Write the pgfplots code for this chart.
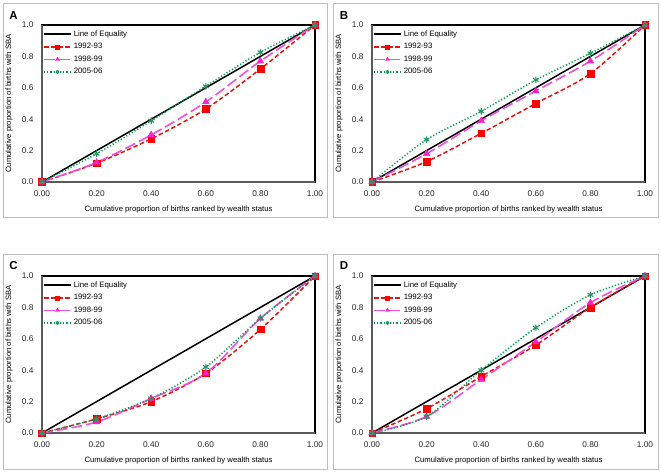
\documentclass[border=0pt]{standalone}
\usepackage{pgfplots}
\pgfplotsset{compat=1.18}
\usepackage{fontspec}
\setmainfont{Liberation Sans}
\definecolor{r92}{RGB}{230,20,20}
\definecolor{r92m}{RGB}{255,0,0}
\definecolor{m98}{RGB}{240,80,220}
\definecolor{m98m}{RGB}{255,30,210}
\definecolor{g05}{RGB}{0,160,80}
\definecolor{g05m}{RGB}{40,150,100}
\definecolor{framegray}{RGB}{190,190,190}
\definecolor{axgray}{RGB}{90,90,90}
\pgfplotsset{
  panel/.style={
    scale only axis, width=273pt, height=157pt, anchor=south west,
    xmin=0, xmax=1, ymin=0, ymax=1, clip=false,
    xtick={0,0.2,0.4,0.6,0.8,1}, ytick={0,0.2,0.4,0.6,0.8,1},
    xticklabels={0.00,0.20,0.40,0.60,0.80,1.00},
    yticklabels={0.0,0.2,0.4,0.6,0.8,1.0},
    major tick length=0pt,
    tick label style={font=\fontsize{8.3}{10}\selectfont, text=black!85},
    xticklabel style={yshift=-5pt},
    yticklabel style={xshift=-5pt},
    axis line style={draw=black, line width=1.6pt},
    xlabel={Cumulative proportion of births ranked by wealth status},
    ylabel={Cumulative proportion of births with SBA},
    label style={font=\fontsize{7.7}{9}\selectfont},
    xlabel style={at={(axis description cs:0.5,-0.178)}, anchor=center},
    ylabel style={at={(axis description cs:-0.12,0.5)}, anchor=center},
    legend style={at={(axis description cs:0.0,0.985)}, anchor=north west,
      draw=none, fill=none, font=\fontsize{7.8}{9}\selectfont,
      row sep=1.6pt, inner sep=1pt},
    legend cell align=left,
    legend image code/.code={\draw[mark repeat=2,mark phase=2,#1,every mark/.append style={scale=0.6}] plot coordinates {(0pt,0pt) (13.5pt,0pt) (27pt,0pt)};},
  },
  eq/.style={black, line width=1.5pt, mark=none},
  s92/.style={r92, line width=1.5pt, dash pattern=on 4.5pt off 2.5pt, smooth,
    mark=square*, mark size=3.3pt, mark options={solid, fill=r92m, draw=r92m, line width=0.4pt}},
  s98/.style={m98, line width=1.6pt, dash pattern=on 11pt off 4pt, smooth,
    mark=triangle*, mark size=3.8pt, mark options={solid, fill=m98m, draw=m98m, line width=0.4pt}},
  s05/.style={g05, line width=1.5pt, dash pattern=on 1.2pt off 2pt, smooth,
    mark=asterisk, mark size=3.3pt, mark options={solid, draw=g05m, line width=1.1pt}},
}
\newcommand{\leftbottom}{\draw[axgray, line width=1.8pt] (rel axis cs:0,1) -- (rel axis cs:0,0) -- (rel axis cs:1,0);}
\begin{document}
\begin{tikzpicture}
\path[use as bounding box] (0pt,0pt) rectangle (661pt,472pt);
% frames
\draw[framegray, line width=1pt] (3pt,255pt) rectangle (327pt,468pt);
\draw[framegray, line width=1pt] (333pt,255pt) rectangle (658pt,468pt);
\draw[framegray, line width=1pt] (3pt,3pt) rectangle (327pt,218pt);
\draw[framegray, line width=1pt] (333pt,3pt) rectangle (658pt,218pt);
\node[font=\bfseries\fontsize{11.5}{12}\selectfont] at (13.5pt,456.5pt) {A};
\node[font=\bfseries\fontsize{11.5}{12}\selectfont] at (344pt,456.5pt) {B};
\node[font=\bfseries\fontsize{11.5}{12}\selectfont] at (13.5pt,206.5pt) {C};
\node[font=\bfseries\fontsize{11.5}{12}\selectfont] at (344pt,206.5pt) {D};
% Panel A
\begin{axis}[panel, at={(42pt,290pt)}]
\leftbottom
\addplot[eq] coordinates {(0,0) (1,1)};
\addplot[s92] coordinates {(0,0) (0.2,0.12) (0.4,0.275) (0.6,0.465) (0.8,0.72) (1,1)};
\addplot[s98] coordinates {(0,0) (0.2,0.125) (0.4,0.30) (0.6,0.51) (0.8,0.77) (1,1)};
\addplot[s05] coordinates {(0,0) (0.2,0.18) (0.4,0.39) (0.6,0.61) (0.8,0.826) (1,1)};
\legend{Line of Equality,1992-93,1998-99,2005-06}
\end{axis}
% Panel B
\begin{axis}[panel, at={(372pt,290pt)}]
\leftbottom
\addplot[eq] coordinates {(0,0) (1,1)};
\addplot[s92] coordinates {(0,0) (0.2,0.13) (0.4,0.31) (0.6,0.50) (0.8,0.69) (1,1)};
\addplot[s98] coordinates {(0,0) (0.2,0.18) (0.4,0.39) (0.6,0.58) (0.8,0.77) (1,1)};
\addplot[s05] coordinates {(0,0) (0.2,0.27) (0.4,0.45) (0.6,0.65) (0.8,0.82) (1,1)};
\legend{Line of Equality,1992-93,1998-99,2005-06}
\end{axis}
% Panel C
\begin{axis}[panel, at={(42pt,39pt)}]
\leftbottom
\addplot[eq] coordinates {(0,0) (1,1)};
\addplot[s92] coordinates {(0,0) (0.2,0.09) (0.4,0.20) (0.6,0.38) (0.8,0.66) (1,1)};
\addplot[s98] coordinates {(0,0) (0.2,0.07) (0.4,0.22) (0.6,0.38) (0.8,0.73) (1,1)};
\addplot[s05] coordinates {(0,0) (0.2,0.09) (0.4,0.22) (0.6,0.42) (0.8,0.73) (1,1)};
\legend{Line of Equality,1992-93,1998-99,2005-06}
\end{axis}
% Panel D
\begin{axis}[panel, at={(372pt,39pt)}]
\leftbottom
\addplot[eq] coordinates {(0,0) (1,1)};
\addplot[s92] coordinates {(0,0) (0.2,0.155) (0.4,0.36) (0.6,0.56) (0.8,0.80) (1,1)};
\addplot[s98] coordinates {(0,0) (0.2,0.105) (0.4,0.34) (0.6,0.58) (0.8,0.83) (1,1)};
\addplot[s05] coordinates {(0,0) (0.2,0.105) (0.4,0.40) (0.6,0.67) (0.8,0.88) (1,1)};
\legend{Line of Equality,1992-93,1998-99,2005-06}
\end{axis}
\end{tikzpicture}
\end{document}
